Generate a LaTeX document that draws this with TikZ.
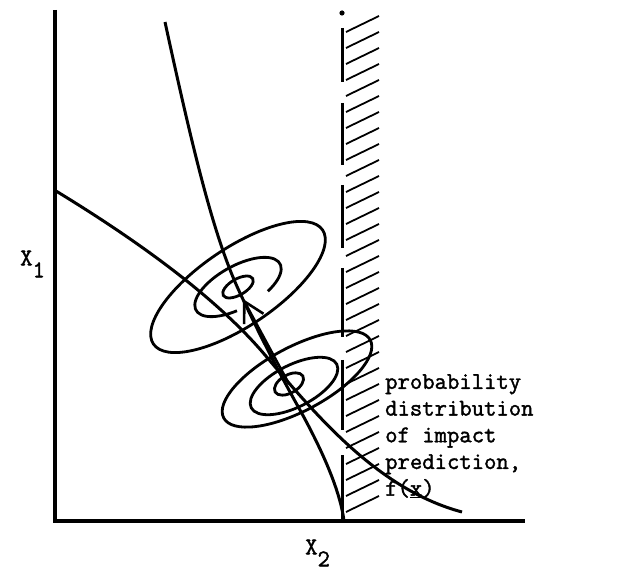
\documentclass[tikz,border=0pt]{standalone}
\usepackage{fontspec}
\newfontfamily\typew{Latin Modern Mono}[FakeBold=1.6]
\usetikzlibrary{arrows.meta}
\begin{document}
\begin{tikzpicture}[x=1pt,y=-1pt,
  axis/.style={line width=3.6pt},
  curve/.style={line width=3pt},
  ell/.style={line width=2.8pt},
  hatch/.style={line width=1.8pt},
  wall/.style={line width=3pt},
  lab/.style={font=\typew\fontsize{24}{26.7}\selectfont, inner sep=0pt}]
\useasboundingbox (0,0) rectangle (638,580);
% axes
\coordinate (O) at (55,521);
\coordinate (Ytop) at (55,10);
\coordinate (Xend) at (525,521);
\draw[axis] (Ytop) -- (O) -- (Xend);
% hatched limit line
\foreach \a/\b in {28/82,103/165,185/248,268/337,360/430,455/521}
  \draw[wall] (342,\a) -- (342,\b);
\fill (342,13) circle (2.6);
\foreach \y in {32,48,...,520}
  \draw[hatch] (346,\y) -- (379,\y-16);
% curves
\draw[curve] (165,22) .. controls (195,160) and (215,240) .. (240,293)
  .. controls (262,340) and (282,378) .. (300,410)
  .. controls (322,450) and (340,490) .. (344,521);
\draw[curve] (56,191) .. controls (120,230) and (210,290) .. (265,355)
  .. controls (320,420) and (380,490) .. (462,512);
% upper cluster
\coordinate (c1) at (238,287);
\draw[ell,rotate around={34:(c1)}] (c1) ellipse [x radius=102pt, y radius=39pt];
\draw[ell,rotate around={29:(c1)}] (c1) ++(-60:48pt and 21pt) arc[start angle=-60, end angle=255, x radius=48pt, y radius=21pt];
\draw[ell,rotate around={30:(c1)}] (c1) ellipse [x radius=17pt, y radius=8pt];
% lower cluster
\coordinate (c2) at (297,379);
\coordinate (c3) at (294,386);
\coordinate (c4) at (289,384);
\draw[ell,rotate around={28:(c2)}] (c2) ellipse [x radius=83pt, y radius=32pt];
\draw[ell,rotate around={27:(c3)}] (c3) ellipse [x radius=48pt, y radius=21pt];
\draw[ell,rotate around={30:(c4)}] (c4) ellipse [x radius=16pt, y radius=9pt];
% arrow between centres
\coordinate (tip) at (243,299);
\draw[line width=2.6pt,-{Straight Barb[length=20pt,width=22pt,line width=2.6pt]}] (c4) -- (tip);
% labels
\node[lab,anchor=west] (x1) at (20,264) {X\raisebox{-0.5em}{1}};
\node[lab,anchor=west] (x2) at (305,553) {X\raisebox{-0.5em}{2}};
\node[lab,anchor=north west,align=left] (txt) at (385,374)
  {probability\\distribution\\of impact\\prediction,\\f(\underline{x})};
\end{tikzpicture}
\end{document}
